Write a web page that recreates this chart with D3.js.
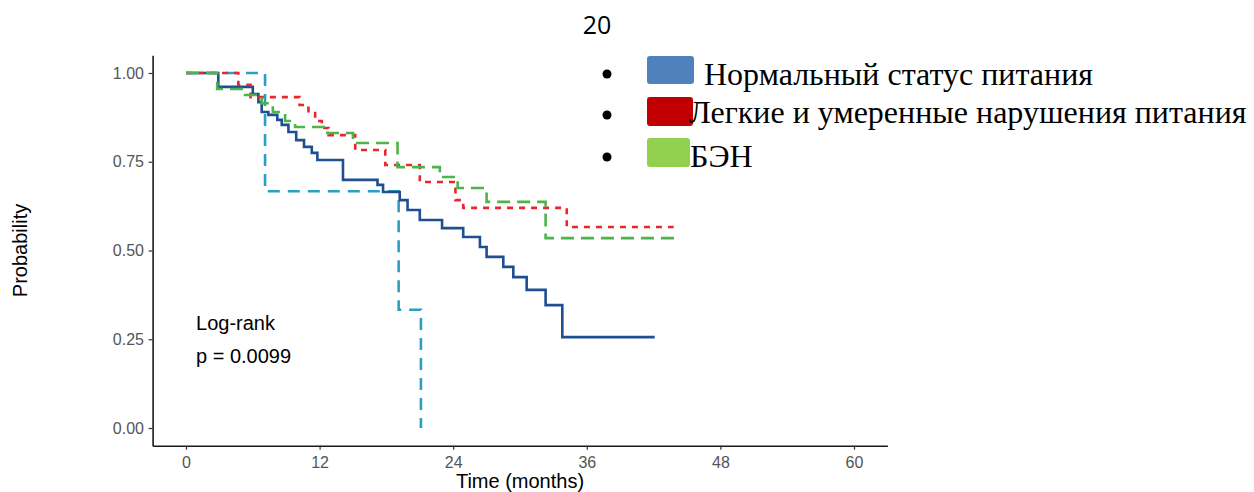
<!DOCTYPE html>
<html>
<head>
<meta charset="utf-8">
<script src="https://cdnjs.cloudflare.com/ajax/libs/d3/7.8.5/d3.min.js"></script>
<style>
  html, body { margin: 0; padding: 0; background: #fff; }
  svg { display: block; }
</style>
</head>
<body>
<svg id="chart" width="1254" height="492"></svg>
<script>
// ---- data ----
const xTicks = [0, 12, 24, 36, 48, 60];
const yTicks = [0, 0.25, 0.5, 0.75, 1.0];
const yTickLabels = ["0.00", "0.25", "0.50", "0.75", "1.00"];

// Normal (dark blue, solid)
const blueTimes = [0, 2.9, 6.0, 6.5, 6.8, 7.4, 8.2, 8.6, 9.2, 9.9, 10.6, 11.3, 11.8, 14.1, 17.2, 17.7, 19.2, 19.9, 21.0, 23.0, 24.9, 26.4, 27.0, 28.5, 29.4, 30.6, 32.3, 33.8, 42.1];
const blueSurv  = [1.0, 0.961, 0.941, 0.918, 0.890, 0.882, 0.868, 0.854, 0.834, 0.811, 0.792, 0.775, 0.755, 0.699, 0.685, 0.665, 0.642, 0.614, 0.586, 0.563, 0.538, 0.510, 0.482, 0.454, 0.425, 0.389, 0.346, 0.256, 0.256];

// small group (light blue, long dash)
const cyanTimes = [0, 7.1, 19.1, 21.1, 21.1];
const cyanSurv  = [1.0, 0.667, 0.333, 0.0, 0.0];

// red, dotted
const redTimes = [0, 4.7, 5.8, 10.2, 11.0, 11.6, 12.2, 12.8, 15.2, 17.9, 21.0, 24.2, 24.9, 34.2, 43.8];
const redSurv  = [1.0, 0.967, 0.932, 0.910, 0.887, 0.865, 0.845, 0.825, 0.783, 0.741, 0.693, 0.642, 0.620, 0.566, 0.566];

// green, dashed
const greenTimes = [0, 2.8, 5.3, 6.8, 7.8, 8.9, 9.8, 12.7, 15.0, 19.0, 22.8, 24.4, 27.0, 32.3, 44.1];
const greenSurv  = [1.0, 0.955, 0.938, 0.915, 0.890, 0.865, 0.848, 0.831, 0.803, 0.735, 0.707, 0.676, 0.637, 0.535, 0.535];

const legendLabels = ["Нормальный статус питания", "Легкие и умеренные нарушения питания", "БЭН"];
const legendColors = ["#4f81bd", "#c00000", "#92d050"];

// ---- drawing ----
const svg = d3.select("#chart");
const x = d3.scaleLinear().domain([-3, 63]).range([152.6, 887.4]);
const y = d3.scaleLinear().domain([-0.05, 1.05]).range([445.75, 55.25]);

const tickColor = "#555";
const sansFont = "'Liberation Sans', Arial, sans-serif";

// axes
const xAxis = d3.axisBottom(x).tickValues(xTicks).tickSize(4).tickSizeOuter(0).tickFormat(d3.format("d"));
const yAxis = d3.axisLeft(y).tickValues(yTicks).tickSize(4).tickSizeOuter(0).tickFormat((d, i) => yTickLabels[i]);

const gx = svg.append("g").attr("transform", `translate(0,${y(-0.05)})`).call(xAxis);
const gy = svg.append("g").attr("transform", `translate(${x(-3)},0)`).call(yAxis);
[gx, gy].forEach(g => {
  g.select(".domain").attr("stroke", "#1a1a1a").attr("stroke-width", 1.6);
  g.selectAll(".tick line").attr("stroke", "#333").attr("stroke-width", 1.2);
  g.selectAll(".tick text").attr("fill", tickColor).attr("font-family", sansFont).attr("font-size", 16);
});
gx.selectAll(".tick text").attr("dy", "0.95em");
gy.selectAll(".tick text").attr("dx", "-0.1em");

// axis titles
svg.append("text").attr("x", x(30)).attr("y", 488).attr("text-anchor", "middle")
  .attr("font-family", sansFont).attr("font-size", 20).attr("fill", "#000").text("Time (months)");
svg.append("text").attr("transform", `translate(27,${y(0.5)}) rotate(-90)`).attr("text-anchor", "middle")
  .attr("font-family", sansFont).attr("font-size", 20).attr("fill", "#000").text("Probability");

// curves
const line = d3.line().x(d => x(d[0])).y(d => y(d[1])).curve(d3.curveStepAfter);
const series = [
  {t: cyanTimes, s: cyanSurv, color: "#2a9fc4", dash: "12,8"},
  {t: blueTimes, s: blueSurv, color: "#1f4f8f", dash: null},
  {t: redTimes, s: redSurv, color: "#e8272b", dash: "6,6"},
  {t: greenTimes, s: greenSurv, color: "#4db34a", dash: "13,7"}
];
series.forEach(se => {
  const pts = se.t.map((t, i) => [t, se.s[i]]);
  const p = svg.append("path").datum(pts).attr("d", line)
    .attr("fill", "none").attr("stroke", se.color).attr("stroke-width", 2.6);
  if (se.dash) p.attr("stroke-dasharray", se.dash);
});

// log-rank annotation
svg.append("text").attr("x", x(0.9)).attr("y", 330).attr("font-family", sansFont)
  .attr("font-size", 20).attr("fill", "#000").text("Log-rank");
svg.append("text").attr("x", x(0.9)).attr("y", 363).attr("font-family", sansFont)
  .attr("font-size", 20).attr("fill", "#000").text("p = 0.0099");

// page number title
svg.append("text").attr("x", 597).attr("y", 34).attr("text-anchor", "middle")
  .attr("font-family", "'Open Sans', sans-serif").attr("font-size", 25).attr("fill", "#000").text("20");

// legend
const legY = [70, 111, 153];
const legTextX = [704, 689, 690];
const legBase = [85, 123, 167];
const sq = [[647, 56, 47, 28], [647, 97, 46, 29], [647, 138, 43, 29]];
legendLabels.forEach((lab, i) => {
  svg.append("circle").attr("cx", 607).attr("cy", legY[i] + 4).attr("r", 4.5).attr("fill", "#000");
  svg.append("rect").attr("x", sq[i][0]).attr("y", sq[i][1]).attr("width", sq[i][2]).attr("height", sq[i][3])
    .attr("rx", 3).attr("fill", legendColors[i]);
  svg.append("text").attr("x", legTextX[i]).attr("y", legBase[i])
    .attr("font-family", "'Liberation Serif', 'Times New Roman', serif").attr("font-size", 32)
    .attr("fill", "#000").text(lab);
});
</script>
</body>
</html>
